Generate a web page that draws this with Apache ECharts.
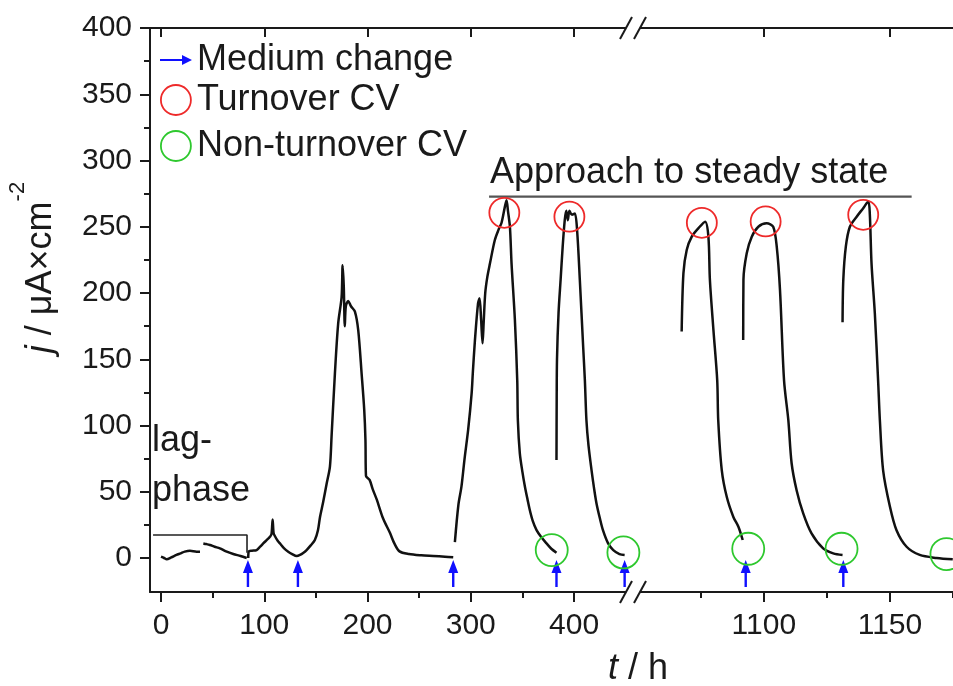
<!DOCTYPE html>
<html><head><meta charset="utf-8">
<script src="https://cdn.jsdelivr.net/npm/echarts@6/dist/echarts.min.js"></script>
<style>html,body{margin:0;padding:0;background:#fff}#c{width:953px;height:686px}</style>
</head><body><div id="c"></div>
<script>
// ---- data (t in h, j in µA cm^-2) ----
const segA = [[0,1],[3,0],[5.5,-1],[10,0.5],[15,2.3],[19,3.5],[23,4.8],[28,5.5],[34.5,4.8],[37.8,4.8]];
const segB = [[41,11],[44,10.5],[47.4,9.8],[52,8.5],[57,7.3],[63,5],[70,3],[77,1.5],[83,0]];
const segC = [[84.5,0],[85,5],[88,5.5],[92.6,6],[96,8.5],[99,11],[103,14],[105.5,16],[107,18],[108.1,29],[109,19],[110,17],[113,13],[115.2,11],[119,7.5],[123.2,4.8],[127,3],[131.4,1.5],[134.6,2.3],[138,4],[141,6],[145,9.5],[149,13.6],[152,21],[154,31],[157,42],[160.4,56],[163.6,69],[165.2,92],[168.4,139],[171.6,177],[174.9,197],[175.9,221],[177,205],[178,175],[179,190],[181.3,194],[184,190],[187.8,186],[191,172],[194.3,139],[196.8,112],[198,89],[198.5,62],[202,59],[205,52],[209,44],[215,30],[221.7,19],[226,11],[231,5],[240,3],[252,2],[263.6,1.5],[275,1],[283,0.5]];
const segD = [[284.6,12],[288,40],[291,54],[294,75],[297.5,97],[300.8,124],[302,140],[304,164],[307,192],[308.5,196],[310,180],[311.4,162],[312.5,178],[314,200],[316,212],[318.5,222],[323.3,240],[327,248],[329.8,253],[333,265],[334.6,270],[336,262],[337.9,250],[339.5,222],[342.7,180],[345,134],[345.6,104],[347.5,79],[350,65],[352.4,54],[355,44],[357.2,36],[360,28],[363.7,21],[368,16],[373.4,11],[378,7],[383,4]];
const segE = [[383,74],[383.2,120],[383.5,150],[385,185],[387,210],[389,235],[391,255],[392.5,262],[394,255],[395.5,262],[398,259],[400.8,260],[403,247],[405.6,210],[408.8,160],[410.5,134],[412,104],[414,85],[417,66],[419.5,52],[421.8,41],[425,30],[428,21],[433,11],[438,6],[444,3],[449,2.3]];
const segF = [[1067.4,171],[1068.1,215],[1069.4,232.5],[1071.4,242.5],[1074,248.8],[1076.7,253.8],[1078,242.5],[1078.6,209.8],[1080,172],[1081.5,134],[1081.9,104],[1083.3,66.4],[1085.3,46],[1087.9,31],[1089.9,23.6],[1091.6,13.6]];
const segG = [[1091.8,164.5],[1091.9,210],[1093.2,230],[1095.2,242.5],[1097.8,250],[1101.1,252.6],[1103.7,250],[1105.1,235],[1106.4,202],[1108,134],[1109.7,104],[1111,71.5],[1113,51],[1115.6,33.7],[1118.9,18.6],[1123.5,7.3],[1127.5,3.5],[1131.2,2.3]];
const segH = [[1131.2,178],[1131.5,210],[1132.5,235],[1134.1,250],[1136.8,257.6],[1139.4,264],[1141.4,269],[1142,260],[1142.7,222],[1144,184.7],[1145.3,134],[1146,104],[1147.3,66],[1150,38.7],[1152.6,21],[1156.6,8.5],[1161.8,2.3],[1168.5,0],[1174.9,-1]];

const mediumLeft = [[84.2,-11.7],[132.6,-11.7],[283,-11.7],[383,-11.7],[449,-11.7]];
const mediumRight = [[1092.8,-11.7],[1131.5,-11.7]];
const turnoverLeft = [[332.5,260.5],[395.5,257.6]];
const turnoverRight = [[1075.4,253],[1100.7,254],[1139.4,259]];
const nonTurnLeft = [[378.4,6],[447.8,4.2]];
const nonTurnRight = [[1093.8,7],[1130.8,7],[1172.4,3]];

const lagLine = [[-7.7,17.4],[83.3,17.4],[83.3,4]];
const approachLeft = [[317.7,272.7],[457.1,272.7]];
const approachRight = [[1048.1,272.7],[1158.6,272.7]];

const xTicksLeft = [0,100,200,300,400];
const xMinorLeft = [50,150,250,350];
const xTicksRight = [1100,1150];
const xMinorRight = [1075,1125,1175];
const yTicks = [0,50,100,150,200,250,300,350,400];
const yMinor = [25,75,125,175,225,275,325,375];

// ---- chart ----
const FONT = '"Liberation Sans", Arial, Helvetica, sans-serif';
const INK = '#1a1a1a';
const Y_MIN = -25.66, Y_MAX = 400;
const L_MIN = -10.65, L_MAX = 457.1, R_MIN = 1048.1, R_MAX = 1175;
const RED = '#ee2a2a', GREEN = '#2ec82e', BLUE = '#1010ff';
const ARROW_UP = 'path://M5,0 L10,13 L6.2,13 L6.2,27 L3.8,27 L3.8,13 L0,13 Z';
const ARROW_RIGHT = 'path://M0,4 L22,4 L22,0 L32,5 L22,10 L22,6 L0,6 Z';

const gridL = {left:150, top:28, width:483, height:564, containLabel:false, outerBoundsMode:'none'};
const gridR = {left:633, top:28, width:320, height:564, containLabel:false, outerBoundsMode:'none'};
const axLine = {show:true, onZero:false, lineStyle:{color:INK, width:2}};
const noLine = {show:false, onZero:false};
const lblStyle = {fontSize:30, color:INK, fontFamily:FONT, formatter:(v)=>String(v)};

function xAx(grid, min, max, pos, ticks, opts) {
  return Object.assign({
    gridIndex:grid, type:'value', min:min, max:max, position:pos,
    axisLine:axLine, splitLine:{show:false},
    axisTick:{show:true, customValues:ticks, length:10, inside:pos==='top', lineStyle:{color:INK, width:2}},
    axisLabel:{show:false}
  }, opts||{});
}

const option = {
  animation:false,
  backgroundColor:'#fff',
  grid:[gridL, gridR, Object.assign({}, gridL), Object.assign({}, gridR)],
  xAxis:[
    xAx(0, L_MIN, L_MAX, 'bottom', xTicksLeft, {axisLabel:Object.assign({show:true, customValues:xTicksLeft, margin:19}, lblStyle)}),
    xAx(0, L_MIN, L_MAX, 'top', xTicksLeft, {axisTick:{show:true, customValues:xTicksLeft, length:9, inside:true, lineStyle:{color:INK,width:2}}}),
    xAx(1, R_MIN, R_MAX, 'bottom', xTicksRight, {axisLabel:Object.assign({show:true, customValues:xTicksRight, margin:19}, lblStyle)}),
    xAx(1, R_MIN, R_MAX, 'top', xTicksRight, {axisTick:{show:true, customValues:xTicksRight, length:9, inside:true, lineStyle:{color:INK,width:2}}}),
    xAx(2, L_MIN, L_MAX, 'bottom', xMinorLeft, {axisLine:noLine, axisTick:{show:true, customValues:xMinorLeft, length:6, lineStyle:{color:INK,width:2}}}),
    xAx(3, R_MIN, R_MAX, 'bottom', xMinorRight, {axisLine:noLine, axisTick:{show:true, customValues:xMinorRight, length:6, lineStyle:{color:INK,width:2}}})
  ],
  yAxis:[
    {gridIndex:0, type:'value', min:Y_MIN, max:Y_MAX, position:'left', axisLine:axLine, splitLine:{show:false},
     axisTick:{show:true, customValues:yTicks, length:10, lineStyle:{color:INK,width:2}},
     axisLabel:Object.assign({show:true, customValues:yTicks, margin:18}, lblStyle)},
    {gridIndex:1, type:'value', min:Y_MIN, max:Y_MAX, show:false, axisLine:noLine, splitLine:{show:false}},
    {gridIndex:2, type:'value', min:Y_MIN, max:Y_MAX, position:'left', axisLine:noLine, splitLine:{show:false},
     axisTick:{show:true, customValues:yMinor, length:6, lineStyle:{color:INK,width:2}}, axisLabel:{show:false}},
    {gridIndex:3, type:'value', min:Y_MIN, max:Y_MAX, show:false, axisLine:noLine, splitLine:{show:false}}
  ],
  legend:[
    {data:[{name:'Medium change', icon:ARROW_RIGHT, itemStyle:{color:BLUE, opacity:1}}], left:160, top:42, padding:0, itemWidth:32, itemHeight:30, itemGap:0, selectedMode:false,
     textStyle:{fontSize:36, color:INK, fontFamily:FONT, lineHeight:36}},
    {data:[{name:'Turnover CV', icon:'circle', itemStyle:{color:'rgba(0,0,0,0)', borderColor:RED, borderWidth:1.8, opacity:1}}], left:160, top:82, padding:0, itemWidth:32, itemHeight:30, selectedMode:false,
     textStyle:{fontSize:36, color:INK, fontFamily:FONT, lineHeight:36}},
    {data:[{name:'Non-turnover CV', icon:'circle', itemStyle:{color:'rgba(0,0,0,0)', borderColor:GREEN, borderWidth:1.8, opacity:1}}], left:160, top:128, padding:0, itemWidth:32, itemHeight:30, selectedMode:false,
     textStyle:{fontSize:36, color:INK, fontFamily:FONT, lineHeight:36}}
  ],
  series:[],
  graphic:[]
};

function curve(data, right) {
  return {type:'line', xAxisIndex:right?2:0, yAxisIndex:right?1:0, data:data, showSymbol:false, symbol:'none', silent:true,
    smooth:0.3, lineStyle:{color:'#111', width:2.5}, z:3};
}
[segA, segB, segC, segD, segE].forEach(s => option.series.push(curve(s, false)));
[segF, segG, segH].forEach(s => option.series.push(curve(s, true)));

option.series.push({type:'line', xAxisIndex:0, yAxisIndex:0, data:lagLine, symbol:'none', silent:true, lineStyle:{color:'#222', width:1.6}});
option.series.push({type:'line', xAxisIndex:0, yAxisIndex:0, data:approachLeft, symbol:'none', silent:true, lineStyle:{color:'#555', width:2.2}});
option.series.push({type:'line', xAxisIndex:2, yAxisIndex:1, data:approachRight, symbol:'none', silent:true, lineStyle:{color:'#555', width:2.2}});

function scat(name, data, right, symbol, size, style) {
  return {name:name, type:'scatter', xAxisIndex:right?2:0, yAxisIndex:right?1:0, data:data, symbol:symbol, symbolSize:size,
    itemStyle:style, silent:true, clip:false, z:5};
}
const medStyle = {color:BLUE, opacity:1};
const redStyle = {color:'rgba(0,0,0,0)', borderColor:RED, borderWidth:1.8, opacity:1};
const greenStyle = {color:'rgba(0,0,0,0)', borderColor:GREEN, borderWidth:1.8, opacity:1};
option.series.push(scat('Medium change', mediumLeft, false, ARROW_UP, [10,27], medStyle));
option.series.push(scat('Medium change', mediumRight, true, ARROW_UP, [10,27], medStyle));
option.series.push(scat('Turnover CV', turnoverLeft, false, 'circle', 30, redStyle));
option.series.push(scat('Turnover CV', turnoverRight, true, 'circle', 30, redStyle));
option.series.push(scat('Non-turnover CV', nonTurnLeft, false, 'circle', 32, greenStyle));
option.series.push(scat('Non-turnover CV', nonTurnRight, true, 'circle', 32, greenStyle));

// texts and axis-break marks
const g = option.graphic;
g.push({type:'text', x:41, y:267.5, rotation:Math.PI/2, z:20,
  style:{text:'{i|j}{n| / μA×cm}{s|-2}', align:'center', verticalAlign:'middle', fill:INK,
    rich:{i:{fontSize:36, fontStyle:'italic', fontFamily:FONT, fill:INK, lineHeight:68},
          n:{fontSize:36, fontFamily:FONT, fill:INK, lineHeight:68},
          s:{fontSize:22, fontFamily:FONT, fill:INK, lineHeight:68, verticalAlign:'top'}}}});
g.push({type:'text', x:638, y:669, z:20,
  style:{text:'{i|t}{n| / h}', align:'center', verticalAlign:'middle', fill:INK,
    rich:{i:{fontSize:36, fontStyle:'italic', fontFamily:FONT, fill:INK}, n:{fontSize:36, fontFamily:FONT, fill:INK}}}});
g.push({type:'text', x:152, y:416.5, z:20,
  style:{text:'lag-\nphase', font:'36px ' + FONT, lineHeight:50, fill:INK, align:'left', verticalAlign:'top'}});
g.push({type:'text', x:490, y:173.5, z:20,
  style:{text:'Approach to steady state', font:'36px ' + FONT, fill:INK, align:'left', verticalAlign:'middle'}});
[592, 28].forEach(yy => {
  g.push({type:'rect', z:30, shape:{x:626, y:yy-4, width:14, height:8}, style:{fill:'#fff'}});
  g.push({type:'line', z:31, shape:{x1:620, y1:yy+11, x2:632, y2:yy-11}, style:{stroke:INK, lineWidth:2}});
  g.push({type:'line', z:31, shape:{x1:634, y1:yy+11, x2:646, y2:yy-11}, style:{stroke:INK, lineWidth:2}});
});

const chart = echarts.init(document.getElementById('c'), null, {renderer:'canvas'});
chart.setOption(option);
</script>
</body></html>
